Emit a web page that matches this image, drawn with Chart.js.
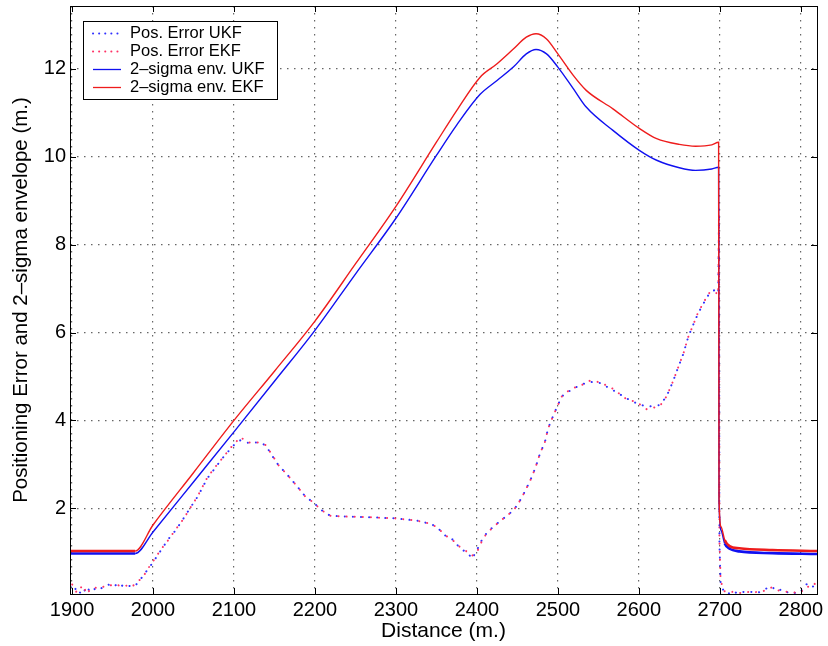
<!DOCTYPE html>
<html>
<head>
<meta charset="utf-8">
<script src="https://cdn.jsdelivr.net/npm/chart.js@4.4.1/dist/chart.umd.min.js"></script>
<style>
  html, body { margin: 0; padding: 0; background: #fff; }
  #wrap { width: 828px; height: 646px; }
</style>
</head>
<body>
<div id="wrap"><canvas id="chart"></canvas></div>
<script>
// axis ticks
const xTicks = [1900, 2000, 2100, 2200, 2300, 2400, 2500, 2600, 2700, 2800];
const yTicks = [2, 4, 6, 8, 10, 12];

// 2-sigma envelopes (distance, value)
const envDist = [1897.5, 1978, 2000, 2050, 2100, 2150, 2200, 2250, 2300, 2350, 2375, 2404, 2424.5,
  2445, 2461, 2473, 2486, 2500, 2519, 2535, 2568, 2601, 2622, 2650, 2670, 2690, 2698.5, 2699, 2701.5,
  2706, 2712, 2724, 2765, 2820];
const envUKF = [0.97, 0.97, 1.46, 2.6, 3.74, 4.89, 6.05, 7.33, 8.6, 10.03, 10.72, 11.42, 11.73,
  12.04, 12.34, 12.44, 12.34, 12.04, 11.55, 11.13, 10.6, 10.14, 9.92, 9.75, 9.69, 9.72, 9.76, 2.2, 1.5,
  1.2, 1.08, 1.02, 0.98, 0.96];
const envEKF = [1.03, 1.03, 1.62, 2.81, 4.0, 5.12, 6.26, 7.56, 8.87, 10.33, 11.05, 11.81, 12.11,
  12.45, 12.72, 12.8, 12.68, 12.34, 11.85, 11.51, 11.09, 10.64, 10.41, 10.28, 10.24, 10.27, 10.33, 2.23, 1.58,
  1.28, 1.14, 1.09, 1.05, 1.03];

// positioning errors
const errDist = [1898, 1902, 1906, 1910, 1914, 1918, 1922, 1927, 1932, 1937, 1942, 1947, 1952, 1957, 1962,
  1967, 1972, 1977, 1983, 1989, 1995, 2001, 2010, 2019, 2028, 2037, 2047, 2055, 2067, 2076, 2084, 2096,
  2102, 2108, 2117, 2129, 2139, 2147, 2155, 2166, 2178, 2188, 2199, 2207, 2219, 2240, 2264, 2300, 2326,
  2344, 2352, 2360, 2371, 2379, 2389, 2394, 2400, 2408, 2416, 2428, 2441, 2447, 2455, 2461, 2466, 2472,
  2478, 2484, 2488, 2493, 2499, 2505, 2516, 2527, 2539, 2552, 2568, 2585, 2597, 2610, 2626, 2634, 2642,
  2648, 2655, 2661, 2667, 2673, 2681, 2687, 2693, 2698, 2699, 2699.5, 2701, 2705, 2710, 2716, 2722, 2728,
  2734, 2740, 2746, 2752, 2758, 2764, 2770, 2776, 2782, 2788, 2794, 2800, 2805, 2810, 2815, 2820];
const errUKF = [0.22, 0.12, 0.2, 0.08, 0.18, 0.06, 0.2, 0.15, 0.22, 0.18, 0.24, 0.27, 0.22, 0.3, 0.24,
  0.2, 0.24, 0.22, 0.34, 0.5, 0.64, 0.8, 1.05, 1.3, 1.5, 1.75, 2.04, 2.26, 2.68, 2.9, 3.1, 3.36,
  3.48, 3.55, 3.49, 3.5, 3.44, 3.2, 2.98, 2.76, 2.5, 2.27, 2.12, 1.97, 1.83, 1.81, 1.8, 1.77, 1.72,
  1.64, 1.55, 1.39, 1.28, 1.09, 0.98, 0.85, 1.05, 1.35, 1.51, 1.7, 1.89, 2.0, 2.23, 2.45, 2.64, 2.91,
  3.25, 3.51, 3.82, 4.05, 4.31, 4.55, 4.69, 4.8, 4.88, 4.85, 4.69, 4.5, 4.39, 4.31, 4.35, 4.54, 4.88,
  5.18, 5.52, 5.9, 6.17, 6.43, 6.7, 6.89, 6.96, 6.89, 8.8, 1.2, 0.3, 0.1, 0.05, 0.12, 0.06, 0.1,
  0.08, 0.1, 0.07, 0.12, 0.18, 0.22, 0.12, 0.15, 0.08, 0.12, 0.06, 0.1, 0.25, 0.3, 0.22, 0.28];
const errEKF = [0.35, 0.2, 0.08, 0.18, 0.25, 0.05, 0.14, 0.2, 0.18, 0.22, 0.2, 0.24, 0.28, 0.25, 0.22,
  0.24, 0.2, 0.26, 0.36, 0.48, 0.66, 0.82, 1.07, 1.28, 1.52, 1.74, 2.04, 2.27, 2.7, 2.92, 3.1, 3.38,
  3.5, 3.62, 3.5, 3.5, 3.44, 3.22, 2.98, 2.76, 2.5, 2.27, 2.12, 1.97, 1.83, 1.81, 1.8, 1.77, 1.72,
  1.64, 1.55, 1.4, 1.26, 1.12, 1.0, 0.92, 1.0, 1.33, 1.5, 1.7, 1.89, 2.0, 2.23, 2.45, 2.64, 2.91,
  3.25, 3.51, 3.82, 4.05, 4.31, 4.55, 4.72, 4.78, 4.9, 4.87, 4.72, 4.48, 4.42, 4.25, 4.33, 4.54, 4.88,
  5.18, 5.52, 5.9, 6.17, 6.45, 6.72, 6.9, 6.94, 6.86, 8.7, 1.3, 0.35, 0.12, 0.08, 0.1, 0.07, 0.08,
  0.1, 0.07, 0.1, 0.1, 0.15, 0.2, 0.14, 0.12, 0.1, 0.1, 0.08, 0.08, 0.2, 0.22, 0.3, 0.25];

const seriesLabels = ['Pos. Error UKF', 'Pos. Error EKF', '2\u2013sigma env. UKF', '2\u2013sigma env. EKF'];

const FONT = 'Liberation Sans, Arial, Helvetica, sans-serif';
const toPts = (xs, ys) => xs.map((x, i) => ({ x: x, y: ys[i] }));

// thicker band on the flat parts of the envelope (marker texture in the original)
const envWidth = ctx => (ctx.p1.parsed.x <= 1978 || ctx.p0.parsed.x >= 2706) ? 2.6 : 1.4;

// box, inward ticks and the legend, drawn like the matlab figure
const matlabFrame = {
  id: 'matlabFrame',
  afterDatasetsDraw(chart) {
    const { ctx, chartArea: a, scales } = chart;
    ctx.save();
    ctx.strokeStyle = '#000';
    ctx.lineWidth = 1;
    ctx.beginPath();
    xTicks.forEach(v => {
      const px = Math.round(scales.x.getPixelForValue(v)) + 0.5;
      ctx.moveTo(px, a.bottom); ctx.lineTo(px, a.bottom - 6);
      ctx.moveTo(px, a.top); ctx.lineTo(px, a.top + 6);
    });
    yTicks.forEach(v => {
      const py = Math.round(scales.y.getPixelForValue(v)) + 0.5;
      ctx.moveTo(a.left, py); ctx.lineTo(a.left + 6, py);
      ctx.moveTo(a.right, py); ctx.lineTo(a.right - 6, py);
    });
    ctx.stroke();
    ctx.strokeRect(Math.round(a.left) + 0.5, Math.round(a.top) + 0.5,
      Math.round(a.right - a.left), Math.round(a.bottom - a.top));
    ctx.restore();
  },
  afterDraw(chart) {
    const ctx = chart.ctx;
    ctx.save();
    ctx.fillStyle = '#fff';
    ctx.fillRect(83.5, 21.5, 194, 78);
    ctx.strokeStyle = '#000';
    ctx.lineWidth = 1;
    ctx.strokeRect(83.5, 21.5, 194, 78);
    chart.data.datasets.forEach((ds, i) => {
      const y = 33.5 + i * 18;
      ctx.strokeStyle = ds.borderColor;
      ctx.lineWidth = ds.borderDash ? 2 : 1.3;
      ctx.lineCap = ds.borderDash ? 'round' : 'butt';
      ctx.setLineDash(ds.borderDash ? [0.1, 6] : []);
      ctx.beginPath();
      ctx.moveTo(93, y);
      ctx.lineTo(121, y);
      ctx.stroke();
      ctx.setLineDash([]);
      ctx.fillStyle = '#000';
      ctx.font = '16.5px ' + FONT;
      ctx.textBaseline = 'middle';
      ctx.fillText(ds.label, 130, y);
    });
    ctx.restore();
  }
};

new Chart(document.getElementById('chart'), {
  type: 'line',
  data: {
    datasets: [{
      label: seriesLabels[0],
      data: toPts(errDist, errUKF),
      borderColor: '#3030ff',
      borderWidth: 2,
      borderDash: [0.1, 8],
      borderCapStyle: 'round',
      pointRadius: 0,
      tension: 0,
      order: 3
    }, {
      label: seriesLabels[1],
      data: toPts(errDist, errEKF),
      borderColor: '#ff3366',
      borderWidth: 2,
      borderDash: [0.1, 8],
      borderDashOffset: 4,
      borderCapStyle: 'round',
      pointRadius: 0,
      tension: 0,
      order: 2
    }, {
      label: seriesLabels[2],
      data: toPts(envDist, envUKF),
      borderColor: '#1010f0',
      borderWidth: 1.4,
      pointRadius: 0,
      cubicInterpolationMode: 'monotone',
      segment: { borderWidth: envWidth },
      order: 1
    }, {
      label: seriesLabels[3],
      data: toPts(envDist, envEKF),
      borderColor: '#ee1c1c',
      borderWidth: 1.4,
      pointRadius: 0,
      cubicInterpolationMode: 'monotone',
      segment: { borderWidth: envWidth },
      order: 0
    }]
  },
  options: {
    responsive: true,
    maintainAspectRatio: false,
    animation: false,
    layout: { padding: { top: 6, right: 11, left: 0, bottom: 0 } },
    scales: {
      x: {
        type: 'linear',
        min: 1897.5,
        max: 2820,
        afterBuildTicks: s => { s.ticks = xTicks.map(v => ({ value: v })); },
        afterFit: s => { s.height = 52; s.paddingLeft = 0; s.paddingRight = 0; },
        ticks: {
          color: '#000',
          font: { family: FONT, size: 20 },
          padding: 4,
          maxRotation: 0,
          autoSkip: false,
          callback: v => String(v)
        },
        grid: { color: '#666', lineWidth: 1.2, drawTicks: false },
        border: { display: false, dash: [1.5, 5.5] },
        title: {
          display: true,
          text: 'Distance (m.)',
          color: '#000',
          font: { family: FONT, size: 21 },
          padding: { top: 0, bottom: 2 }
        }
      },
      y: {
        type: 'linear',
        min: 0.05,
        max: 13.43,
        afterBuildTicks: s => { s.ticks = yTicks.map(v => ({ value: v })); },
        afterFit: s => { s.width = 70; s.paddingTop = 0; s.paddingBottom = 0; },
        ticks: {
          color: '#000',
          font: { family: FONT, size: 20 },
          padding: 4,
          callback: v => String(v)
        },
        grid: { color: '#666', lineWidth: 1.2, drawTicks: false },
        border: { display: false, dash: [1.5, 5.5] },
        title: {
          display: true,
          text: 'Positioning Error and 2\u2013sigma envelope (m.)',
          color: '#000',
          font: { family: FONT, size: 20.5 },
          padding: { top: 9, bottom: 0 }
        }
      }
    },
    plugins: {
      legend: { display: false },
      tooltip: { enabled: false }
    }
  },
  plugins: [matlabFrame]
});
</script>
</body>
</html>
